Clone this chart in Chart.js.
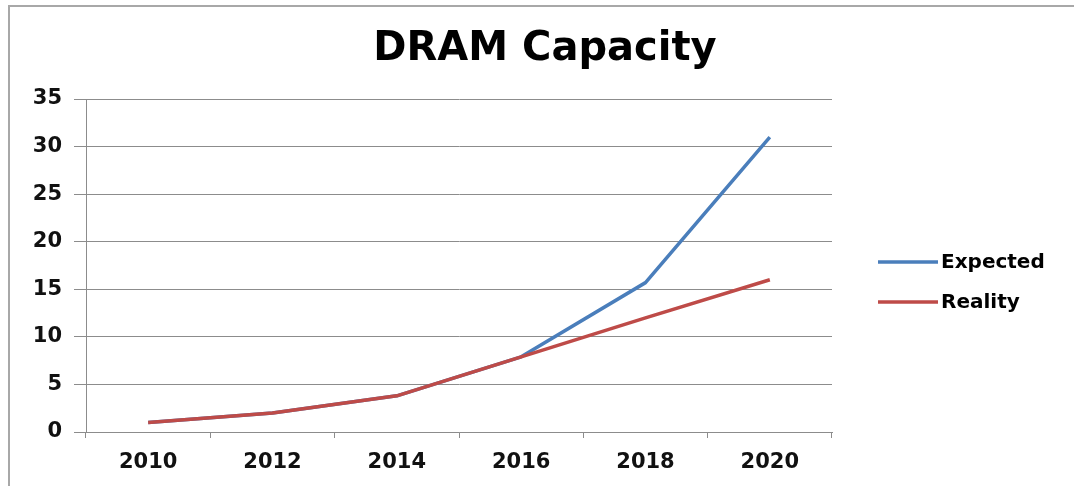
<!DOCTYPE html>
<html>
<head>
<meta charset="utf-8">
<script src="https://cdn.jsdelivr.net/npm/chart.js@4/dist/chart.umd.min.js"></script>
<style>
  html, body { margin: 0; padding: 0; background: #fff; }
  #wrap { position: relative; width: 1074px; height: 486px; }
  #frame { position: absolute; left: 8px; top: 5px; right: -4px; bottom: -4px;
           border-top: 2px solid #a8a8a8; border-left: 2px solid #a8a8a8; }
  canvas { position: absolute; left: 0; top: 0; }
</style>
</head>
<body>
<div id="wrap">
  <div id="frame"></div>
  <canvas id="myChart" width="1074" height="486"></canvas>
</div>
<script>
// values
const years = ['2010', '2012', '2014', '2016', '2018', '2020'];
const expected = [1, 2, 3.8, 7.9, 15.7, 31];
const reality = [1, 2, 3.8, 7.9, 12, 16];
const yTicks = [0, 5, 10, 15, 20, 25, 30, 35];
const chartTitle = 'DRAM Capacity';

const GRID = '#8c8c8c';
const TICK_FONT = { family: 'DejaVu Sans', size: 21, weight: 'bold' };

// title centred on the whole picture (not only on the plot), like the Excel original
const pageTitle = {
  id: 'pageTitle',
  afterDraw (chart) {
    const ctx = chart.ctx;
    ctx.save();
    ctx.font = 'bold 40px "DejaVu Sans"';
    ctx.fillStyle = '#000';
    ctx.textAlign = 'center';
    ctx.textBaseline = 'middle';
    ctx.fillText(chartTitle, 545, 50);
    ctx.restore();
  }
};

// legend drawn to the right of the plot (line sample + label)
const sideLegend = {
  id: 'sideLegend',
  afterDraw (chart) {
    const ctx = chart.ctx;
    const area = chart.chartArea;
    ctx.save();
    ctx.font = 'bold 20px "DejaVu Sans"';
    ctx.textBaseline = 'middle';
    ctx.fillStyle = '#000';
    chart.data.datasets.forEach((ds, i) => {
      const y = area.top + 163 + i * 40;
      const x0 = area.right + 46;
      ctx.strokeStyle = ds.borderColor;
      ctx.lineWidth = 3.5;
      ctx.beginPath();
      ctx.moveTo(x0, y);
      ctx.lineTo(x0 + 60, y);
      ctx.stroke();
      ctx.fillText(ds.label, x0 + 63, y + 1);
    });
    ctx.restore();
  }
};

function init () {
  let ctx = document.getElementById('myChart').getContext('2d');
  let myChart = new Chart(ctx, {
    type: 'line',
    data: {
      labels: years,
      datasets: [{
        label: 'Expected',
        data: expected,
        borderColor: '#4a7ebb',
        backgroundColor: '#4a7ebb',
        borderWidth: 3.5,
        pointRadius: 0,
        tension: 0,
        borderJoinStyle: 'round',
        order: 1
      }, {
        label: 'Reality',
        data: reality,
        borderColor: '#be4b48',
        backgroundColor: '#be4b48',
        borderWidth: 3.5,
        pointRadius: 0,
        tension: 0,
        borderJoinStyle: 'round',
        order: 0
      }]
    },
    options: {
      responsive: false,
      animation: false,
      layout: { padding: { top: 99, left: 26, right: 242, bottom: 4 } },
      plugins: {
        legend: { display: false },
        tooltip: { enabled: false },
        title: { display: false }
      },
      scales: {
        x: {
          offset: true,
          grid: { display: true, offset: true, drawOnChartArea: false, drawTicks: true, tickLength: 6, color: GRID },
          border: { display: true, color: GRID, width: 1 },
          ticks: { color: '#111', font: TICK_FONT, padding: 12, maxRotation: 0 },
          afterFit: (scale) => { scale.height = 50; }
        },
        y: {
          min: 0,
          max: 35,
          afterBuildTicks: (scale) => { scale.ticks = yTicks.map(v => ({ value: v })); },
          grid: { color: GRID, lineWidth: 1, tickLength: 12 },
          border: { display: true, color: GRID, width: 1 },
          ticks: { color: '#111', font: TICK_FONT, padding: 12 },
          afterFit: (scale) => { scale.width = 60; }
        }
      }
    },
    plugins: [pageTitle, sideLegend]
  });
}

init();
</script>
</body>
</html>
